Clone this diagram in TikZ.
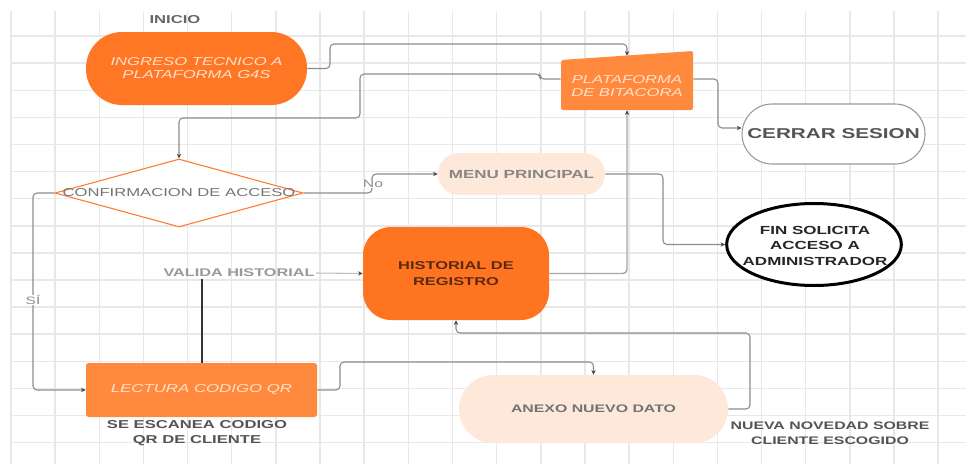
\documentclass[tikz,border=0pt]{standalone}
\usepackage{fontspec}
\setmainfont[FakeStretch=1.45]{Liberation Sans}
\usetikzlibrary{arrows.meta,shapes.geometric,calc}
\definecolor{gridc}{HTML}{E8E8E8}
\definecolor{org}{HTML}{FF7724}
\definecolor{orgh}{HTML}{FF7420}
\definecolor{orgl}{HTML}{FF8A3D}
\definecolor{orgd}{HTML}{FF7A2F}
\definecolor{peach}{HTML}{FDE8DA}
\definecolor{lin}{HTML}{8C8C8C}
\definecolor{tipc}{HTML}{444444}
\definecolor{wtxt}{HTML}{FFE0CC}
\definecolor{brn}{HTML}{5A2A10}
\tikzset{
  txt/.style={font=\fontsize{8.6}{10}\selectfont, align=center, inner sep=1pt},
  conn/.style={draw=lin, line width=0.8pt, rounded corners=3pt, -{Stealth[length=3.5pt,width=3.2pt,color=tipc]}},
  lbl/.style={txt, fill=white, inner sep=0.5pt},
}
\begin{document}
\begin{tikzpicture}[x=0.75pt,y=-0.75pt]
\useasboundingbox (0,0) rectangle (966,464);
\fill[white] (0,0) rectangle (966,464);
% grid
\foreach \k in {0,...,21} \draw[gridc, line width=1.1pt] ({11+44.15*\k},11) -- ({11+44.15*\k},464);
\foreach \k in {1,...,16} \draw[gridc, line width=1.1pt] (11,{9+27.1*\k}) -- (966,{9+27.1*\k});

% nodes
\node[txt, font=\fontsize{8.6}{10}\selectfont\bfseries, text=black!60] (inicio) at (175,20) {INICIO};
\node[txt, fill=org, minimum width=165.75pt, minimum height=54.75pt, rounded corners=27pt,
      text=wtxt, font=\fontsize{8.6}{9.75}\selectfont\itshape] (ingreso) at (196.5,68.5) {INGRESO TECNICO A\\PLATAFORMA G4S};

\fill[orgl, rounded corners=1.5pt] (561,60) -- (693,51) -- (693,110) -- (561,110) -- cycle;
\node[txt, minimum width=99pt, minimum height=40.5pt] (plat) at (627,83) {};
\node[txt, text=wtxt, font=\fontsize{8.6}{9.75}\selectfont\itshape] (plattxt) at (627,86) {PLATAFORMA\\DE BITACORA};

\node[txt, draw=black!40, line width=0.8pt, fill=white, minimum width=137.25pt, minimum height=45pt, rounded corners=22.5pt,
      text=black!67, font=\fontsize{10.7}{12}\selectfont\bfseries] (cerrar) at (833.5,134) {CERRAR SESION};

\node[ellipse, draw=black, line width=2.25pt, fill=white, minimum width=131pt, minimum height=61.5pt, inner sep=0pt] (fin) at (814,244.5) {};
\node[txt, text=black!85, font=\fontsize{8.8}{11.6}\selectfont\bfseries] (fintxt) at (815,245.5) {FIN SOLICITA\\ACCESO A\\ADMINISTRADOR};

\node[diamond, draw=orgd, line width=0.8pt, fill=white, minimum width=186pt, minimum height=51pt, inner sep=0pt] (conf) at (179,193) {};
\node[txt, text=black!55] (conftxt) at (179,193) {CONFIRMACION DE ACCESO};

\node[txt, fill=peach, minimum width=125.25pt, minimum height=31.5pt, rounded corners=15.75pt,
      text=black!47, font=\fontsize{8.8}{10}\selectfont\bfseries] (menu) at (521.5,174) {MENU PRINCIPAL};

\node[txt, fill=orgh, minimum width=139.5pt, minimum height=69.75pt, rounded corners=21pt,
      text=brn, font=\fontsize{8.5}{12}\selectfont\bfseries] (hist) at (456,273.5) {HISTORIAL DE\\REGISTRO};

\node[txt, fill=orgl, minimum width=173.25pt, minimum height=40.5pt, rounded corners=2pt,
      text=wtxt, font=\fontsize{8.7}{10}\selectfont\itshape] (lect) at (201.5,390) {LECTURA CODIGO QR};

\node[txt, fill=peach, minimum width=201.75pt, minimum height=51pt, rounded corners=25.5pt,
      text=black!55, font=\fontsize{8.2}{10}\selectfont\bfseries] (anexo) at (593.5,409) {ANEXO NUEVO DATO};

\node[txt, text=black!67, font=\fontsize{8.6}{11.25}\selectfont\bfseries] (escanea) at (197,433.5) {SE ESCANEA CODIGO\\QR DE CLIENTE};
\node[txt, text=black!67, font=\fontsize{8.2}{11.25}\selectfont\bfseries] (novedad) at (830,433.5) {NUEVA NOVEDAD SOBRE\\CLIENTE ESCOGIDO};
\node[txt, text=black!40, font=\fontsize{8.4}{10}\selectfont\bfseries] (valida) at (239,273) {VALIDA HISTORIAL};

% connectors
\draw[conn] (ingreso.east) -| (330,44) -| (plat.north);
\draw[conn] ([yshift=3pt]plat.west) -| (540,74) -| (360,118) -| (conf.north);
\draw[conn] ([yshift=3pt]plat.east) -| (718,128) -- ([yshift=4.5pt]cerrar.west);
\draw[conn] (conf.east) -- (372,193) |- (menu.west);
\node[lbl, text=black!45, font=\fontsize{8.1}{10}\selectfont] (no) at (373,184) {No};
\draw[conn] (menu.east) -- (663,174) |- (fin.west);
\draw[conn, line width=1.1pt, draw=black!35] (hist.east) -| (plat.south);
\draw[conn] (conf.west) -- (33,193) |- (lect.west);
\node[lbl, text=black!45, font=\fontsize{8}{10}\selectfont] (si) at (33,300) {SÍ};
\draw[line width=1.5pt, draw=black!80] (lect.north) -- (lect.north |- valida.south);
\draw[conn, draw=black!25] (valida.east) -- (hist.west);
\draw[conn] (lect.east) -| (340,362) -| (anexo.north);
\draw[conn] (anexo.east) -| (750,333) -| (hist.south);
\end{tikzpicture}
\end{document}
